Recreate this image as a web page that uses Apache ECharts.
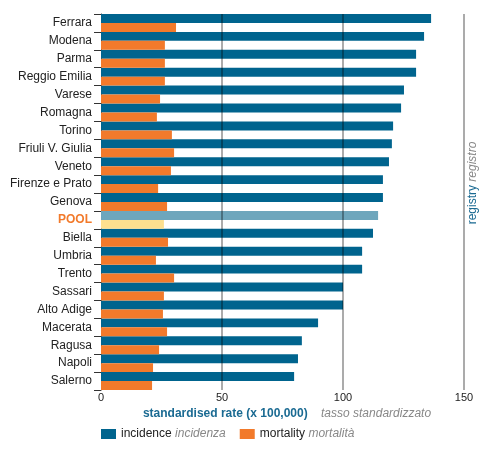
<!DOCTYPE html>
<html><head><meta charset="utf-8">
<script src="https://cdn.jsdelivr.net/npm/echarts@6/dist/echarts.min.js"></script>
<style>html,body{margin:0;padding:0;background:#fff}#c{width:485px;height:449px}</style>
</head><body><div id="c"></div>
<script>
const categories = ["Ferrara","Modena","Parma","Reggio Emilia","Varese","Romagna","Torino","Friuli V. Giulia","Veneto","Firenze e Prato","Genova","POOL","Biella","Umbria","Trento","Sassari","Alto Adige","Macerata","Ragusa","Napoli","Salerno"];
const incidence = [136.4,133.5,130.2,130.2,125.2,124.0,120.7,120.2,119.0,116.5,116.5,114.5,112.4,107.9,107.9,100.0,100.0,89.7,83.0,81.4,79.8];
const mortality = [31.0,26.4,26.4,26.4,24.4,23.1,29.3,30.2,28.9,23.6,27.3,26.0,27.7,22.7,30.2,26.0,25.6,27.3,24.0,21.5,21.1];
const xTicks = [0,50,100,150];

const BLUE = '#00648e', ORANGE = '#f27a2b', POOL_BLUE = '#6ea6bc', POOL_YEL = '#fde08f';
const FONT = '"Liberation Sans", Arial, sans-serif';

const chart = echarts.init(document.getElementById('c'), null, {renderer:'canvas'});
chart.setOption({
  animation:false,
  textStyle:{fontFamily:FONT},
  grid:{left:101, right:21, top:14, bottom:59, containLabel:false},
  xAxis:{type:'value', min:xTicks[0], max:xTicks[xTicks.length-1], interval:50,
    axisLine:{show:false}, axisTick:{show:false}, splitLine:{show:false},
    axisLabel:{color:'#222', fontSize:11, margin:2, fontFamily:FONT}},
  yAxis:{type:'category', data:categories, inverse:true,
    axisLine:{show:true, lineStyle:{color:'#333', width:1}},
    axisTick:{show:true, length:7, lineStyle:{color:'#333'}},
    axisLabel:{color:'#222', fontSize:12, margin:9, fontFamily:FONT,
      formatter:v => v==='POOL' ? '{p|POOL}' : v,
      rich:{p:{color:ORANGE, fontWeight:'bold', fontSize:12, fontFamily:FONT}}}},
  legend:{left:101, top:428, padding:0, itemWidth:15, itemHeight:10, itemGap:14, icon:'rect',
    textStyle:{fontFamily:FONT, fontSize:12, color:'#222',
      rich:{a:{fontSize:12, color:'#222', fontFamily:FONT}, b:{fontSize:12, color:'#888', fontStyle:'italic', fontFamily:FONT}}},
    formatter:n => n==='incidence' ? '{a|incidence} {b|incidenza}' : '{a|mortality} {b|mortalità}',
    data:['incidence','mortality']},
  series:[
    {name:'incidence', type:'bar', barGap:'0%', barCategoryGap:'0%', itemStyle:{color:BLUE},
     data:incidence.map((v,i)=>categories[i]==='POOL'?{value:v,itemStyle:{color:POOL_BLUE}}:v),
     markLine:{silent:true, symbol:'none', label:{show:false}, z:10,
       lineStyle:{color:'rgba(0,0,0,0.33)', width:2, type:'solid'},
       data:[{xAxis:50},{xAxis:100},{xAxis:150}]}},
    {name:'mortality', type:'bar', barGap:'0%', barCategoryGap:'0%', itemStyle:{color:ORANGE},
     data:mortality.map((v,i)=>categories[i]==='POOL'?{value:v,itemStyle:{color:POOL_YEL}}:v)}
  ],
  graphic:[
    {type:'text', x:287, y:408,
     style:{rich:{a:{fill:'#1a6a92', fontWeight:'bold', fontSize:12, fontFamily:FONT}, b:{fill:'#888', fontStyle:'italic', fontSize:12, fontFamily:FONT}},
       text:'{a|standardised rate (x 100,000)}    {b|tasso standardizzato}', align:'center', verticalAlign:'top'}},
    {type:'text', x:467, y:183, rotation:Math.PI/2,
     style:{rich:{a:{fill:'#1a6a92', fontSize:12, fontFamily:FONT}, b:{fill:'#888', fontStyle:'italic', fontSize:12, fontFamily:FONT}},
       text:'{a|registry} {b|registro}', align:'center', verticalAlign:'top'}}
  ]
});
</script></body></html>
